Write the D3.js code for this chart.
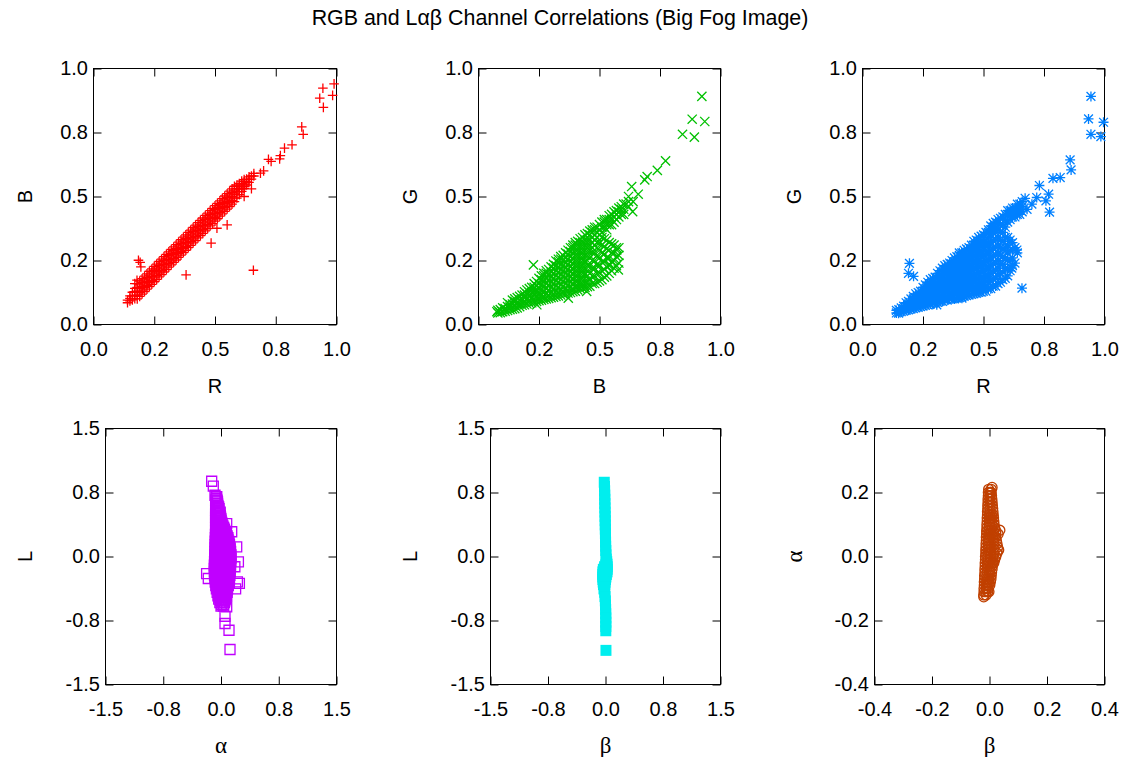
<!DOCTYPE html>
<html>
<head>
<meta charset="utf-8">
<script src="https://cdn.jsdelivr.net/npm/d3@7"></script>
<style>
	body { margin: 0; background: #fff; }
	svg text { font-family: "Liberation Sans", Arial, sans-serif; fill: #000; }
</style>
</head>
<body>
<div id="chart"></div>
<script>
// ---- data ----
const chartTitle = "RGB and L\u03b1\u03b2 Channel Correlations (Big Fog Image)";

const rgbTicks = [0, 0.25, 0.5, 0.75, 1.0];
const rgbTickLabels = ["0.0", "0.2", "0.5", "0.8", "1.0"];
const labTicks = [-1.5, -0.75, 0, 0.75, 1.5];
const labTickLabels = ["-1.5", "-0.8", "0.0", "0.8", "1.5"];
const abTicks = [-0.4, -0.2, 0, 0.2, 0.4];
const abTickLabels = ["-0.4", "-0.2", "0.0", "0.2", "0.4"];

// R vs B : dense band as columns [R, [B, ...]] plus stray points [R, B]
const rbColumns = [
	[0.14,[0.085,0.095]],[0.15,[0.092,0.102,0.112]],[0.16,[0.096,0.111,0.126]],[0.17,[0.101,0.114,0.128,0.141]],
	[0.18,[0.100,0.115,0.130,0.145,0.160]],[0.19,[0.110,0.125,0.140,0.155,0.170]],
	[0.20,[0.119,0.134,0.149,0.164,0.179]],[0.21,[0.129,0.144,0.159,0.174,0.189]],
	[0.22,[0.138,0.153,0.168,0.183,0.198]],[0.23,[0.148,0.163,0.178,0.193,0.208]],
	[0.24,[0.157,0.172,0.187,0.202,0.217]],[0.25,[0.167,0.182,0.197,0.212,0.227]],
	[0.26,[0.176,0.191,0.206,0.221,0.236]],[0.27,[0.186,0.201,0.216,0.231,0.246]],
	[0.28,[0.195,0.210,0.225,0.240,0.255]],[0.29,[0.205,0.220,0.235,0.250,0.265]],
	[0.30,[0.214,0.229,0.244,0.259,0.274]],[0.31,[0.224,0.239,0.254,0.269,0.284]],
	[0.32,[0.233,0.248,0.263,0.278,0.293]],[0.33,[0.243,0.258,0.273,0.288,0.303]],
	[0.34,[0.252,0.267,0.282,0.297,0.312]],[0.35,[0.262,0.277,0.292,0.307,0.322]],
	[0.36,[0.271,0.286,0.301,0.316,0.331]],[0.37,[0.281,0.296,0.311,0.326,0.341]],
	[0.38,[0.290,0.305,0.320,0.335,0.350]],[0.39,[0.300,0.315,0.330,0.345,0.360]],
	[0.40,[0.309,0.324,0.339,0.354,0.369]],[0.41,[0.319,0.334,0.349,0.364,0.379]],
	[0.42,[0.328,0.343,0.358,0.373,0.388]],[0.43,[0.338,0.353,0.368,0.383,0.398]],
	[0.44,[0.347,0.362,0.377,0.392,0.407]],[0.45,[0.356,0.371,0.386,0.401,0.416]],
	[0.46,[0.366,0.381,0.396,0.411,0.426]],[0.47,[0.375,0.390,0.405,0.420,0.435]],
	[0.48,[0.385,0.400,0.415,0.430,0.445]],[0.49,[0.394,0.409,0.424,0.439,0.454]],
	[0.50,[0.404,0.419,0.434,0.449,0.464]],[0.51,[0.413,0.428,0.443,0.458,0.473]],
	[0.52,[0.423,0.438,0.453,0.468,0.483]],[0.53,[0.432,0.447,0.462,0.477,0.492]],
	[0.54,[0.442,0.457,0.472,0.487,0.502]],[0.55,[0.451,0.466,0.481,0.496,0.511]],
	[0.56,[0.461,0.476,0.491,0.506,0.521]],[0.57,[0.470,0.485,0.500,0.515,0.530]],
	[0.58,[0.480,0.495,0.510,0.525,0.540]],[0.59,[0.494,0.507,0.519,0.532,0.545]],
	[0.60,[0.507,0.518,0.529,0.540,0.551]],[0.61,[0.520,0.529,0.538,0.550,0.560]],
	[0.62,[0.532,0.540,0.548,0.558,0.566]],[0.63,[0.545,0.557,0.568]],[0.64,[0.555,0.567,0.577]],
	[0.65,[0.568,0.580]],[0.66,[0.580,0.590]]
];
const rbOutliers = [
	[0.99,0.94],[0.944,0.923],[0.984,0.895],[0.931,0.884],[0.946,0.848],[0.857,0.772],[0.863,0.743],
	[0.817,0.702],[0.786,0.689],[0.769,0.66],[0.766,0.647],[0.731,0.637],[0.72,0.645],[0.687,0.591],
	[0.70,0.60],[0.658,0.212],[0.381,0.194],[0.55,0.389],[0.484,0.318],[0.508,0.376],[0.192,0.243],
	[0.195,0.225],[0.185,0.251],[0.179,0.173],[0.17,0.16],[0.62,0.50],[0.65,0.53]
];

// B vs G
const bgColumns = [
	[0.08,[0.045,0.055]],[0.09,[0.046,0.058]],[0.10,[0.050,0.065]],[0.11,[0.052,0.062]],
	[0.12,[0.055,0.07,0.085]],[0.13,[0.058,0.068,0.078]],[0.14,[0.06,0.08,0.095]],[0.15,[0.062,0.075,0.09,0.10]],
	[0.16,[0.065,0.085,0.105]],[0.17,[0.07,0.08,0.095,0.11]],[0.18,[0.075,0.095,0.115]],
	[0.19,[0.077,0.09,0.105,0.115,0.128]],[0.20,[0.08,0.10,0.12,0.135]],[0.21,[0.083,0.095,0.11,0.125,0.14]],
	[0.22,[0.085,0.105,0.125,0.145]],[0.23,[0.088,0.10,0.115,0.13,0.145,0.16]],
	[0.24,[0.09,0.11,0.13,0.15,0.168]],[0.25,[0.093,0.105,0.12,0.14,0.16,0.18]],
	[0.26,[0.095,0.115,0.135,0.155,0.175,0.19]],[0.27,[0.098,0.11,0.13,0.15,0.17,0.19,0.20]],
	[0.28,[0.10,0.12,0.14,0.16,0.18,0.20,0.21]],[0.29,[0.102,0.115,0.135,0.155,0.175,0.195,0.215]],
	[0.30,[0.105,0.125,0.145,0.165,0.185,0.205,0.225]],[0.31,[0.107,0.12,0.14,0.16,0.18,0.20,0.22,0.235]],
	[0.32,[0.11,0.13,0.15,0.17,0.19,0.21,0.23,0.248]],[0.33,[0.112,0.125,0.145,0.165,0.185,0.205,0.225,0.245,0.255]],
	[0.34,[0.115,0.135,0.155,0.175,0.195,0.215,0.235,0.255,0.265]],
	[0.35,[0.118,0.13,0.15,0.17,0.19,0.21,0.23,0.25,0.27]],
	[0.36,[0.12,0.14,0.16,0.18,0.20,0.22,0.24,0.26,0.28]],
	[0.37,[0.123,0.135,0.155,0.175,0.195,0.215,0.235,0.255,0.275,0.29]],
	[0.38,[0.125,0.145,0.165,0.185,0.205,0.225,0.245,0.265,0.285,0.30]],
	[0.39,[0.128,0.14,0.16,0.18,0.20,0.22,0.24,0.26,0.28,0.30,0.31]],
	[0.40,[0.13,0.15,0.17,0.19,0.21,0.23,0.25,0.27,0.29,0.31,0.32]],
	[0.41,[0.135,0.15,0.17,0.19,0.21,0.23,0.25,0.27,0.29,0.31,0.325]],
	[0.42,[0.14,0.16,0.18,0.20,0.22,0.24,0.26,0.28,0.30,0.32,0.335]],
	[0.43,[0.142,0.16,0.18,0.20,0.22,0.24,0.26,0.28,0.30,0.32,0.34]],
	[0.44,[0.145,0.17,0.195,0.22,0.245,0.27,0.29,0.31,0.33,0.35]],
	[0.45,[0.148,0.17,0.19,0.21,0.23,0.25,0.27,0.29,0.31,0.33,0.355]],
	[0.46,[0.15,0.175,0.20,0.23,0.26,0.29,0.31,0.33,0.35,0.365]],
	[0.47,[0.16,0.19,0.22,0.25,0.28,0.30,0.32,0.34,0.36,0.37]],
	[0.48,[0.16,0.19,0.22,0.25,0.28,0.31,0.33,0.35,0.37,0.38]],
	[0.49,[0.165,0.20,0.235,0.27,0.30,0.32,0.34,0.36,0.38]],
	[0.50,[0.17,0.20,0.23,0.26,0.29,0.32,0.35,0.37,0.39]],
	[0.51,[0.175,0.21,0.245,0.28,0.31,0.34,0.36,0.38,0.40]],
	[0.52,[0.185,0.215,0.245,0.275,0.305,0.335,0.38,0.40,0.41]],
	[0.53,[0.19,0.225,0.26,0.295,0.33,0.37,0.39,0.41]],
	[0.54,[0.20,0.23,0.26,0.29,0.32,0.39,0.41,0.425]],
	[0.55,[0.21,0.245,0.28,0.315,0.39,0.41,0.43]],
	[0.56,[0.22,0.25,0.28,0.31,0.40,0.42,0.44]],
	[0.57,[0.23,0.265,0.30,0.41,0.43,0.445]],
	[0.58,[0.24,0.27,0.30,0.42,0.44,0.455]],
	[0.59,[0.43,0.45,0.46]],
	[0.60,[0.43,0.45,0.47]],[0.62,[0.46,0.48]]
];
const bgOutliers = [
	[0.923,0.891],[0.883,0.802],[0.935,0.793],[0.843,0.743],[0.892,0.732],[0.773,0.639],[0.739,0.602],
	[0.697,0.578],[0.687,0.565],[0.633,0.539],[0.66,0.509],[0.639,0.48],[0.637,0.441],[0.571,0.291],
	[0.578,0.213],[0.543,0.233],[0.076,0.05],[0.096,0.051],[0.227,0.233],[0.241,0.077],[0.371,0.103],
	[0.447,0.129],[0.62,0.50],[0.61,0.47]
];

// R vs G
const rgColumns = [
	[0.14,[0.045,0.055]],[0.15,[0.048,0.058]],[0.16,[0.05,0.065]],[0.17,[0.052,0.062,0.072]],
	[0.18,[0.055,0.07,0.085]],[0.19,[0.057,0.068,0.08,0.09]],[0.20,[0.06,0.08,0.10]],
	[0.21,[0.062,0.075,0.09,0.10,0.11]],[0.22,[0.065,0.085,0.105,0.12]],[0.23,[0.067,0.08,0.095,0.11,0.125]],
	[0.24,[0.07,0.09,0.11,0.13]],[0.25,[0.072,0.085,0.10,0.115,0.13,0.145]],
	[0.26,[0.075,0.095,0.115,0.135,0.155]],[0.27,[0.077,0.09,0.105,0.12,0.135,0.15,0.165]],
	[0.28,[0.08,0.10,0.12,0.14,0.16,0.175]],[0.29,[0.082,0.095,0.11,0.13,0.15,0.165,0.18]],
	[0.30,[0.085,0.105,0.125,0.145,0.165,0.185]],[0.31,[0.086,0.10,0.12,0.14,0.16,0.18,0.20]],
	[0.32,[0.09,0.11,0.13,0.15,0.17,0.19,0.21]],[0.33,[0.09,0.105,0.125,0.145,0.165,0.185,0.205,0.22]],
	[0.34,[0.095,0.115,0.135,0.155,0.175,0.195,0.215,0.23]],[0.35,[0.095,0.11,0.13,0.15,0.17,0.19,0.21,0.235]],
	[0.36,[0.10,0.12,0.14,0.16,0.18,0.20,0.22,0.24]],[0.37,[0.10,0.115,0.135,0.155,0.175,0.195,0.215,0.235,0.25]],
	[0.38,[0.10,0.125,0.145,0.165,0.185,0.205,0.225,0.245,0.26]],
	[0.39,[0.103,0.12,0.14,0.16,0.18,0.20,0.22,0.24,0.265]],
	[0.40,[0.105,0.13,0.15,0.17,0.19,0.21,0.23,0.25,0.27,0.28]],
	[0.41,[0.108,0.125,0.145,0.165,0.185,0.205,0.225,0.245,0.265,0.28]],
	[0.42,[0.11,0.135,0.155,0.175,0.195,0.215,0.235,0.255,0.275,0.29]],
	[0.43,[0.113,0.13,0.15,0.17,0.19,0.21,0.23,0.25,0.27,0.295]],
	[0.44,[0.115,0.14,0.16,0.18,0.20,0.22,0.24,0.26,0.28,0.30]],
	[0.45,[0.118,0.135,0.155,0.175,0.195,0.215,0.235,0.255,0.275,0.295,0.31]],
	[0.46,[0.12,0.145,0.17,0.195,0.22,0.245,0.27,0.29,0.31,0.325]],
	[0.47,[0.122,0.14,0.16,0.18,0.20,0.22,0.24,0.26,0.28,0.30,0.33]],
	[0.48,[0.125,0.15,0.175,0.20,0.225,0.25,0.275,0.30,0.32,0.34]],
	[0.49,[0.126,0.145,0.165,0.185,0.205,0.225,0.245,0.265,0.285,0.305,0.325,0.345]],
	[0.50,[0.13,0.155,0.18,0.21,0.24,0.27,0.30,0.325,0.35]],
	[0.51,[0.13,0.15,0.17,0.19,0.21,0.23,0.25,0.27,0.29,0.31,0.33,0.36]],
	[0.52,[0.14,0.165,0.19,0.22,0.25,0.28,0.31,0.34,0.36,0.37]],
	[0.53,[0.14,0.17,0.20,0.23,0.26,0.29,0.32,0.35,0.37,0.385]],
	[0.54,[0.15,0.18,0.21,0.24,0.27,0.30,0.33,0.36,0.38,0.395]],
	[0.55,[0.15,0.18,0.21,0.24,0.27,0.30,0.33,0.36,0.38,0.40]],
	[0.56,[0.16,0.19,0.22,0.25,0.28,0.31,0.34,0.37,0.395,0.41]],
	[0.57,[0.165,0.20,0.235,0.27,0.30,0.33,0.36,0.39,0.415]],
	[0.58,[0.175,0.205,0.235,0.265,0.295,0.325,0.36,0.39,0.42]],
	[0.59,[0.18,0.22,0.26,0.30,0.34,0.38,0.41,0.43]],
	[0.60,[0.19,0.22,0.25,0.28,0.31,0.34,0.40,0.43,0.445]],
	[0.61,[0.21,0.25,0.29,0.33,0.41,0.435,0.445]],
	[0.62,[0.23,0.26,0.29,0.32,0.42,0.44,0.455]],
	[0.63,[0.24,0.30,0.42,0.44,0.455]],
	[0.64,[0.28,0.43,0.45,0.47]],[0.65,[0.43,0.45,0.47]],[0.66,[0.44,0.46,0.48]]
];
const rgOutliers = [
	[0.944,0.891],[0.934,0.803],[0.996,0.79],[0.944,0.743],[0.985,0.734],[0.858,0.643],[0.862,0.604],
	[0.817,0.574],[0.787,0.571],[0.731,0.543],[0.769,0.509],[0.758,0.483],[0.773,0.439],[0.72,0.496],
	[0.672,0.493],[0.659,0.142],[0.638,0.291],[0.617,0.22],[0.194,0.239],[0.19,0.2],[0.211,0.188],
	[0.149,0.044],[0.307,0.077],[0.411,0.103],[0.486,0.129],[0.70,0.47],[0.68,0.45]
];

// alpha vs L : rows [L, [alpha, ...]]
const alRows = [
	[0.70,[-0.065,-0.055]],[0.68,[-0.06]],[0.66,[-0.068,-0.05]],[0.64,[-0.06,-0.045]],[0.62,[-0.065,-0.045]],
	[0.60,[-0.06,-0.04]],[0.58,[-0.068,-0.045,-0.03]],[0.56,[-0.06,-0.04,-0.025]],[0.54,[-0.07,-0.05,-0.03]],
	[0.52,[-0.06,-0.035,-0.01]],[0.50,[-0.07,-0.045,-0.02]],[0.48,[-0.06,-0.035,-0.01]],
	[0.46,[-0.07,-0.045,-0.02,-0.005]],[0.44,[-0.06,-0.03,0.0]],[0.42,[-0.07,-0.04,-0.01,0.0]],
	[0.40,[-0.06,-0.03,0.0,0.01]],[0.38,[-0.07,-0.04,-0.01,0.015]],[0.36,[-0.06,-0.03,0.0,0.025]],
	[0.34,[-0.07,-0.04,-0.01,0.02,0.035]],[0.32,[-0.06,-0.03,0.0,0.03,0.045]],
	[0.30,[-0.07,-0.04,-0.01,0.02,0.05]],[0.28,[-0.06,-0.03,0.0,0.03,0.06]],
	[0.26,[-0.072,-0.045,-0.015,0.015,0.045,0.07]],[0.24,[-0.06,-0.03,0.0,0.03,0.06,0.08]],
	[0.22,[-0.073,-0.045,-0.015,0.015,0.045,0.075,0.09]],[0.20,[-0.06,-0.03,0.0,0.03,0.06,0.09]],
	[0.18,[-0.075,-0.045,-0.015,0.015,0.045,0.075,0.10]],[0.16,[-0.061,-0.031,-0.001,0.029,0.059,0.089,0.105]],
	[0.14,[-0.076,-0.046,-0.016,0.014,0.044,0.074,0.10,0.11]],[0.12,[-0.062,-0.032,-0.002,0.028,0.058,0.088,0.11]],
	[0.10,[-0.077,-0.047,-0.017,0.013,0.043,0.073,0.10,0.12]],[0.08,[-0.063,-0.033,-0.003,0.027,0.057,0.087,0.115]],
	[0.06,[-0.078,-0.048,-0.018,0.012,0.042,0.072,0.10,0.125]],[0.04,[-0.065,-0.035,-0.005,0.025,0.055,0.085,0.115]],
	[0.02,[-0.08,-0.05,-0.02,0.01,0.04,0.07,0.10,0.13]],[0.00,[-0.067,-0.037,-0.007,0.023,0.053,0.083,0.115]],
	[-0.02,[-0.082,-0.052,-0.022,0.008,0.038,0.068,0.098,0.13]],[-0.04,[-0.069,-0.039,-0.009,0.021,0.051,0.081,0.113]],
	[-0.06,[-0.084,-0.054,-0.024,0.006,0.036,0.066,0.096,0.128]],[-0.08,[-0.071,-0.041,-0.011,0.019,0.049,0.079,0.11]],
	[-0.10,[-0.086,-0.056,-0.026,0.004,0.034,0.064,0.094,0.125]],[-0.12,[-0.072,-0.042,-0.012,0.018,0.048,0.078,0.108]],
	[-0.14,[-0.087,-0.057,-0.027,0.003,0.033,0.063,0.093,0.12]],[-0.16,[-0.071,-0.041,-0.011,0.019,0.049,0.079,0.107]],
	[-0.18,[-0.086,-0.056,-0.026,0.004,0.034,0.064,0.094,0.12]],[-0.20,[-0.069,-0.039,-0.009,0.021,0.051,0.081,0.105]],
	[-0.22,[-0.084,-0.054,-0.024,0.006,0.036,0.066,0.096,0.115]],[-0.24,[-0.065,-0.035,-0.005,0.025,0.055,0.085,0.1]],
	[-0.26,[-0.08,-0.05,-0.02,0.01,0.04,0.07,0.10,0.11]],[-0.28,[-0.06,-0.03,0.0,0.03,0.06,0.088]],
	[-0.30,[-0.075,-0.045,-0.015,0.015,0.045,0.075,0.10]],[-0.32,[-0.055,-0.025,0.005,0.035,0.065,0.085]],
	[-0.34,[-0.068,-0.04,-0.01,0.02,0.05,0.08,0.095]],[-0.36,[-0.045,-0.015,0.015,0.045,0.075]],
	[-0.38,[-0.06,-0.03,0.0,0.03,0.06,0.085]],[-0.40,[-0.035,-0.005,0.025,0.055,0.075]],
	[-0.42,[-0.05,-0.02,0.01,0.04,0.07,0.08]],[-0.44,[-0.025,0.005,0.035,0.065]],
	[-0.46,[-0.04,-0.01,0.02,0.05,0.075]],[-0.48,[-0.015,0.015,0.045,0.065]],
	[-0.50,[-0.03,0.0,0.03,0.06]],[-0.52,[-0.005,0.025,0.05]],[-0.54,[-0.015,0.015,0.045]],
	[-0.56,[0.01,0.035]],[-0.58,[0.0,0.03]]
];
const alOutliers = [
	[-0.121,0.882],[-0.1,0.824],[-0.078,0.718],[-0.07,0.66],[0.204,0.113],[0.226,-0.063],[0.239,-0.316],
	[0.213,-0.297],[-0.187,-0.2],[-0.165,-0.258],[0.074,-0.59],[0.052,-0.7],[0.052,-0.785],[0.104,-0.864],
	[0.117,-1.09],[0.074,0.386],[0.139,0.29],[0.18,-0.12],[0.19,-0.38]
];

// beta vs L : [beta, L]
const blPoints = [
	[-0.016,0.87],[-0.013,0.82],[-0.011,0.77],[-0.010,0.72],[-0.009,0.67],[-0.008,0.62],[-0.007,0.57],
	[-0.006,0.52],[-0.005,0.47],[-0.004,0.42],[-0.003,0.37],[-0.002,0.32],[-0.001,0.27],[0.000,0.22],
	[0.001,0.17],[0.002,0.12],[0.004,0.07],[0.006,0.02],[0.010,-0.03],[0.016,-0.06],[0.020,-0.09],
	[0.002,-0.10],[0.022,-0.12],[-0.012,-0.12],[0.022,-0.15],[-0.028,-0.15],[0.020,-0.18],[-0.034,-0.18],
	[0.012,-0.21],[-0.035,-0.21],[0.005,-0.24],[-0.035,-0.24],[0.000,-0.27],[-0.033,-0.27],[-0.005,-0.30],
	[-0.030,-0.30],[-0.010,-0.33],[-0.026,-0.33],[-0.012,-0.36],[-0.020,-0.38],[-0.010,-0.42],[-0.006,-0.47],
	[-0.002,-0.52],[0.000,-0.57],[0.002,-0.62],[0.003,-0.67],[0.004,-0.72],[0.004,-0.77],[0.004,-0.82],
	[0.004,-0.87],[0.006,-1.10]
];

// beta vs alpha : rows [alpha, [beta, ...]]
const baRows = [
	[0.21,[-0.003,0.006]],[0.20,[-0.004,0.002,0.006]],[0.19,[-0.004,0.002,0.007]],[0.18,[-0.005,0.001,0.008]],
	[0.17,[-0.005,0.002,0.009]],[0.16,[-0.006,0.002,0.010]],[0.15,[-0.006,0.002,0.011]],[0.14,[-0.007,0.002,0.012]],
	[0.13,[-0.007,0.000,0.007,0.013]],[0.12,[-0.008,0.000,0.007,0.014]],[0.11,[-0.008,0.000,0.008,0.015]],
	[0.10,[-0.009,0.000,0.008,0.016]],[0.09,[-0.009,-0.001,0.008,0.018]],[0.08,[-0.010,-0.002,0.006,0.014,0.022]],
	[0.07,[-0.010,-0.002,0.006,0.014,0.022]],[0.06,[-0.011,-0.003,0.005,0.013,0.022]],
	[0.05,[-0.011,-0.003,0.005,0.014,0.024]],[0.04,[-0.012,-0.004,0.005,0.015,0.026]],
	[0.03,[-0.012,-0.004,0.005,0.016,0.028]],[0.02,[-0.013,-0.005,0.004,0.016,0.030]],
	[0.01,[-0.013,-0.005,0.004,0.014,0.026]],[0.00,[-0.014,-0.006,0.003,0.012,0.022]],
	[-0.01,[-0.014,-0.006,0.003,0.012,0.018]],[-0.02,[-0.015,-0.007,0.002,0.010,0.015]],
	[-0.03,[-0.015,-0.007,0.002,0.010]],[-0.04,[-0.016,-0.008,0.001,0.009]],[-0.05,[-0.016,-0.008,0.000,0.007]],
	[-0.06,[-0.017,-0.009,-0.001,0.006]],[-0.07,[-0.017,-0.009,-0.002,0.005]],[-0.08,[-0.018,-0.010,-0.003,0.003]],
	[-0.09,[-0.018,-0.010,-0.004,0.001]],[-0.10,[-0.019,-0.011,-0.005]],[-0.11,[-0.019,-0.012,-0.006]],
	[-0.12,[-0.020,-0.012]]
];
const baOutliers = [
	[-0.02,-0.126],[-0.002,-0.11],[0.032,0.02],[0.036,0.082],[0.009,0.216],[0.003,0.2],[0.03,0.07]
];

// ---- helpers to flatten the column / row tables ----
function fromColumns(cols) { return cols.flatMap(c => c[1].map(v => [c[0], v])); }
function fromRows(rows) { return rows.flatMap(r => r[1].map(v => [v, r[0]])); }

// gnuplot point types
const markers = {
	plus: "M-4.8,0H4.8M0,-4.8V4.8",
	cross: "M-4.6,-4.6L4.6,4.6M-4.6,4.6L4.6,-4.6",
	star: "M-5,0H5M0,-5V5M-4.4,-4.4L4.4,4.4M-4.4,4.4L4.4,-4.4",
	box: "M-5,-5H5V5H-5Z",
	boxFilled: "M-5.5,-5.5H5.5V5.5H-5.5Z",
	circle: "M-5,0A5,5 0 1,0 5,0A5,5 0 1,0 -5,0Z"
};

const svg = d3.select("#chart").append("svg")
	.attr("width", 1126)
	.attr("height", 757);

svg.append("text")
	.attr("x", 560)
	.attr("y", 25)
	.attr("text-anchor", "middle")
	.style("font-size", "21.4px")
	.text(chartTitle);

class ScatterPanel {
	constructor(_config, _data) {
		this.config = _config;
		this.data = _data;
		this.initVis();
	}

	initVis() {
		let vis = this;
		let c = vis.config;
		vis.width = c.right - c.left;
		vis.height = c.bottom - c.top;

		vis.g = svg.append("g")
			.attr("transform", "translate(" + c.left + "," + c.top + ")");

		vis.x = d3.scaleLinear().domain(c.domain).range([0, vis.width]);
		vis.y = d3.scaleLinear().domain(c.domain).range([vis.height, 0]);

		let label = (d, i) => c.tickLabels[i];

		// ticks point inwards, mirrored on top and right
		vis.g.append("g")
			.attr("transform", "translate(0," + vis.height + ")")
			.call(d3.axisBottom(vis.x).tickValues(c.ticks).tickFormat(label).tickSize(-8).tickPadding(17));
		vis.g.append("g")
			.call(d3.axisLeft(vis.y).tickValues(c.ticks).tickFormat(label).tickSize(-8).tickPadding(5.5));
		vis.g.append("g")
			.call(d3.axisTop(vis.x).tickValues(c.ticks).tickFormat("").tickSize(-8));
		vis.g.append("g")
			.attr("transform", "translate(" + vis.width + ",0)")
			.call(d3.axisRight(vis.y).tickValues(c.ticks).tickFormat("").tickSize(-8));

		vis.g.selectAll(".domain").remove();
		vis.g.selectAll(".tick line").attr("stroke", "#000");
		vis.g.selectAll(".tick text")
			.style("font-family", "'Liberation Sans', Arial, sans-serif")
			.style("font-size", "20px")
			.attr("fill", "#000");

		vis.g.append("rect")
			.attr("width", vis.width)
			.attr("height", vis.height)
			.attr("fill", "none")
			.attr("stroke", "#000");

		let greek = t => /[\u03b1\u03b2]/.test(t);

		vis.g.append("text")
			.attr("x", vis.width / 2)
			.attr("y", vis.height + 68.5)
			.attr("text-anchor", "middle")
			.style("font-family", greek(c.xTitle) ? "'Liberation Serif', serif" : null)
			.style("font-size", greek(c.xTitle) ? "23px" : "20px")
			.text(c.xTitle);

		vis.g.append("text")
			.attr("transform", "translate(" + (-c.yTitleGap) + "," + (vis.height / 2) + ") rotate(-90)")
			.attr("dy", "0.35em")
			.attr("text-anchor", "middle")
			.style("font-family", greek(c.yTitle) ? "'Liberation Serif', serif" : null)
			.style("font-size", greek(c.yTitle) ? "23px" : "20px")
			.text(c.yTitle);

		vis.renderVis();
	}

	renderVis() {
		let vis = this;
		let c = vis.config;

		vis.g.append("g").selectAll("path")
			.data(vis.data)
			.join("path")
			.attr("transform", d => "translate(" + vis.x(d[0]) + "," + vis.y(d[1]) + ")")
			.attr("d", markers[c.marker])
			.attr("fill", c.filled ? c.color : "none")
			.attr("stroke", c.filled ? "none" : c.color)
			.attr("stroke-width", 1.3);
	}
}

new ScatterPanel({left: 93.5, right: 336.5, top: 68.5, bottom: 324.5, domain: [0, 1], ticks: rgbTicks,
	tickLabels: rgbTickLabels, xTitle: "R", yTitle: "B", yTitleGap: 69, marker: "plus", color: "#ff0000"},
	fromColumns(rbColumns).concat(rbOutliers));
new ScatterPanel({left: 478.5, right: 720.5, top: 68.5, bottom: 324.5, domain: [0, 1], ticks: rgbTicks,
	tickLabels: rgbTickLabels, xTitle: "B", yTitle: "G", yTitleGap: 69, marker: "cross", color: "#00c000"},
	fromColumns(bgColumns).concat(bgOutliers));
new ScatterPanel({left: 862.5, right: 1104.5, top: 68.5, bottom: 324.5, domain: [0, 1], ticks: rgbTicks,
	tickLabels: rgbTickLabels, xTitle: "R", yTitle: "G", yTitleGap: 69, marker: "star", color: "#0080ff"},
	fromColumns(rgColumns).concat(rgOutliers));
new ScatterPanel({left: 105.5, right: 336.5, top: 428.5, bottom: 684.5, domain: [-1.5, 1.5], ticks: labTicks,
	tickLabels: labTickLabels, xTitle: "\u03b1", yTitle: "L", yTitleGap: 81, marker: "box", color: "#c000ff"},
	fromRows(alRows).concat(alOutliers));
new ScatterPanel({left: 490.5, right: 720.5, top: 428.5, bottom: 684.5, domain: [-1.5, 1.5], ticks: labTicks,
	tickLabels: labTickLabels, xTitle: "\u03b2", yTitle: "L", yTitleGap: 81, marker: "boxFilled", filled: true, color: "#00eeee"},
	blPoints);
new ScatterPanel({left: 874.5, right: 1104.5, top: 428.5, bottom: 684.5, domain: [-0.4, 0.4], ticks: abTicks,
	tickLabels: abTickLabels, xTitle: "\u03b2", yTitle: "\u03b1", yTitleGap: 81, marker: "circle", color: "#c04000"},
	fromRows(baRows).concat(baOutliers));
</script>
</body>
</html>
